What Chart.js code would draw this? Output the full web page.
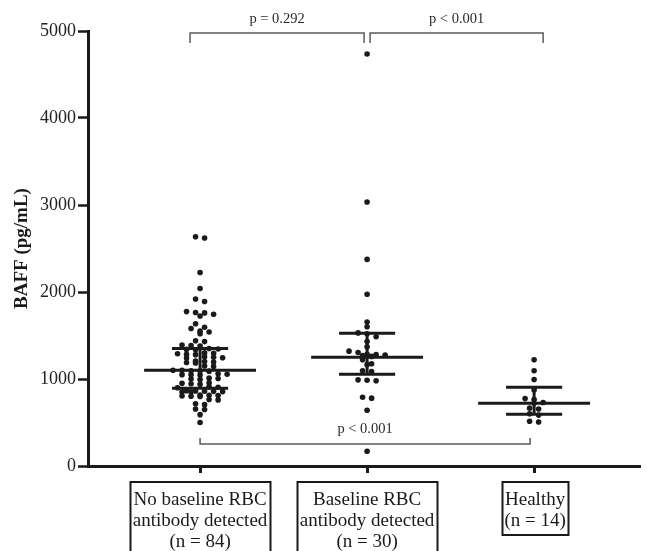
<!DOCTYPE html>
<html>
<head>
<meta charset="utf-8">
<script src="https://cdn.jsdelivr.net/npm/chart.js@4/dist/chart.umd.min.js"></script>
<style>
  body { margin: 0; background: #fff; }
  canvas { display: block; }
</style>
</head>
<body>
<canvas id="myChart" width="647" height="551"></canvas>
<script>
// group labels under the x axis (one line per entry)
const groupLabels = [
  ['No baseline RBC', 'antibody detected', '(n = 84)'],
  ['Baseline RBC', 'antibody detected', '(n = 30)'],
  ['Healthy', '(n = 14)']
];

// BAFF, pg/mL
const noAntibody = [
  2635, 2620, 2225, 2040, 1920, 1890, 1775, 1765, 1760, 1745, 1725, 1635,
  1595, 1580, 1550, 1540, 1520, 1440, 1430, 1390, 1385, 1380,
  1350, 1345, 1340, 1335, 1300, 1295, 1290, 1285, 1280,
  1255, 1250, 1245, 1240, 1205, 1200, 1195, 1190, 1185, 1150, 1145,
  1100, 1100, 1095, 1095, 1090, 1060, 1055, 1050, 1050, 1045,
  1010, 1005, 1000, 995, 955, 950, 945, 940, 910, 905, 900,
  865, 862, 860, 858, 855, 852, 850, 815, 812, 810, 805, 802, 800,
  765, 760, 715, 705, 655, 650, 590, 500
];
const withAntibody = [
  4735, 3035, 2375, 1975, 1655, 1600, 1530, 1520, 1485, 1430, 1370,
  1320, 1305, 1285, 1280, 1275, 1270, 1260, 1220, 1175, 1165,
  1095, 1085, 990, 985, 980, 790, 780, 640, 170
];
const healthy = [1220, 1095, 995, 875, 775, 765, 730, 720, 665, 655, 600, 585, 515, 505];

// median and interquartile range per group
const medians = [1100, 1250, 722];
const lowerQuartiles = [895, 1055, 595];
const upperQuartiles = [1350, 1525, 905];

// pairwise comparisons [from group, to group, label]
const comparisons = [
  [0, 1, 'p = 0.292'],
  [1, 2, 'p < 0.001'],
  [0, 2, 'p < 0.001']
];

const groups = [noAntibody, withAntibody, healthy];
const ink = '#1a1a1a';
const serif = '"Liberation Serif", "Times New Roman", serif';

// Prism-style scatter: values close together share a row, spread sideways
function swarm(values, center) {
  const colStep = 0.054, rowSpan = 45;
  const sorted = values.slice().sort((a, b) => b - a);
  const pts = [];
  let row = [];
  const flush = () => {
    row.forEach((v, i) => pts.push({ x: center + (i - (row.length - 1) / 2) * colStep, y: v }));
    row = [];
  };
  sorted.forEach(v => {
    if (row.length && row[0] - v > rowSpan) flush();
    row.push(v);
  });
  flush();
  return pts;
}

const datasets = [];
groups.forEach((vals, i) => {
  datasets.push({
    data: swarm(vals, i + 1),
    pointRadius: 2.8,
    pointBackgroundColor: ink,
    pointBorderWidth: 0,
    order: 2
  });
});

function segment(points) {
  return {
    data: points,
    showLine: true,
    borderColor: ink,
    borderWidth: 3,
    pointRadius: 0,
    order: 1
  };
}
medians.forEach((m, i) => {
  const c = i + 1;
  datasets.push(segment([{ x: c - 0.335, y: m }, { x: c + 0.335, y: m }]));
  datasets.push(segment([{ x: c - 0.168, y: upperQuartiles[i] }, { x: c + 0.168, y: upperQuartiles[i] }]));
  datasets.push(segment([{ x: c - 0.168, y: lowerQuartiles[i] }, { x: c + 0.168, y: lowerQuartiles[i] }]));
  datasets.push(segment([{ x: c, y: lowerQuartiles[i] }, { x: c, y: upperQuartiles[i] }]));
});

// brackets with p values and the boxed group names
const annotations = {
  id: 'annotations',
  afterDraw(chart) {
    const { ctx, chartArea, scales: { x } } = chart;
    ctx.save();
    ctx.strokeStyle = '#5a5a5a';
    ctx.lineWidth = 1.5;
    ctx.fillStyle = '#2a2a2a';
    ctx.font = '14.5px ' + serif;
    ctx.textAlign = 'center';
    ctx.textBaseline = 'middle';

    const nudge = [[-10, -3], [3, 9], [0, -4]];
    comparisons.forEach(([a, b, label], k) => {
      const x0 = x.getPixelForValue(a + 1) + nudge[k][0];
      const x1 = x.getPixelForValue(b + 1) + nudge[k][1];
      const below = k === 2;
      const yl = below ? chartArea.bottom - 22 : chartArea.top + 2;
      const ye = below ? yl - 6 : yl + 10;
      ctx.beginPath();
      ctx.moveTo(x0, ye);
      ctx.lineTo(x0, yl);
      ctx.lineTo(x1, yl);
      ctx.lineTo(x1, ye);
      ctx.stroke();
      ctx.fillText(label, (x0 + x1) / 2, below ? yl - 15 : yl - 14);
    });

    ctx.font = '19px ' + serif;
    ctx.fillStyle = ink;
    ctx.strokeStyle = ink;
    ctx.lineWidth = 2;
    groupLabels.forEach((lines, i) => {
      const cx = x.getPixelForValue(i + 1) + (i === 2 ? 1 : 0);
      const w = Math.max(...lines.map(t => ctx.measureText(t).width)) + 5;
      const top = chartArea.bottom + 16;
      const h = 18 + (lines.length - 1) * 21 + 14;
      ctx.strokeRect(Math.round(cx - w / 2) + 0.5, top, Math.round(w), h);
      lines.forEach((t, j) => ctx.fillText(t, cx, top + 18 + j * 21));
    });
    ctx.restore();
  }
};

new Chart(document.getElementById('myChart').getContext('2d'), {
  type: 'scatter',
  data: { datasets: datasets },
  options: {
    responsive: false,
    animation: false,
    devicePixelRatio: 1,
    layout: { padding: { top: 31, right: 7, left: 0, bottom: 0 } },
    plugins: { legend: { display: false }, tooltip: { enabled: false } },
    scales: {
      x: {
        type: 'linear',
        min: 0.329,
        max: 3.634,
        afterBuildTicks: s => { s.ticks = [1, 2, 3].map(v => ({ value: v })); },
        afterFit: s => { s.height = 85; },
        ticks: { display: false },
        grid: { drawOnChartArea: false, tickLength: 7, tickWidth: 3, tickColor: ink },
        border: { color: ink, width: 3 }
      },
      y: {
        min: 0,
        max: 5000,
        afterFit: s => { s.width = 88; },
        ticks: {
          stepSize: 1000,
          color: '#222',
          padding: 2,
          font: { family: serif, size: 18 },
          callback: v => String(v)
        },
        grid: { drawOnChartArea: false, tickLength: 10, tickWidth: 2.5, tickColor: ink },
        border: { color: ink, width: 3 },
        title: {
          display: true,
          text: 'BAFF (pg/mL)',
          color: ink,
          font: { family: serif, size: 19, weight: 'bold' },
          padding: { top: 11, bottom: 0 }
        }
      }
    }
  },
  plugins: [annotations]
});
</script>
</body>
</html>
